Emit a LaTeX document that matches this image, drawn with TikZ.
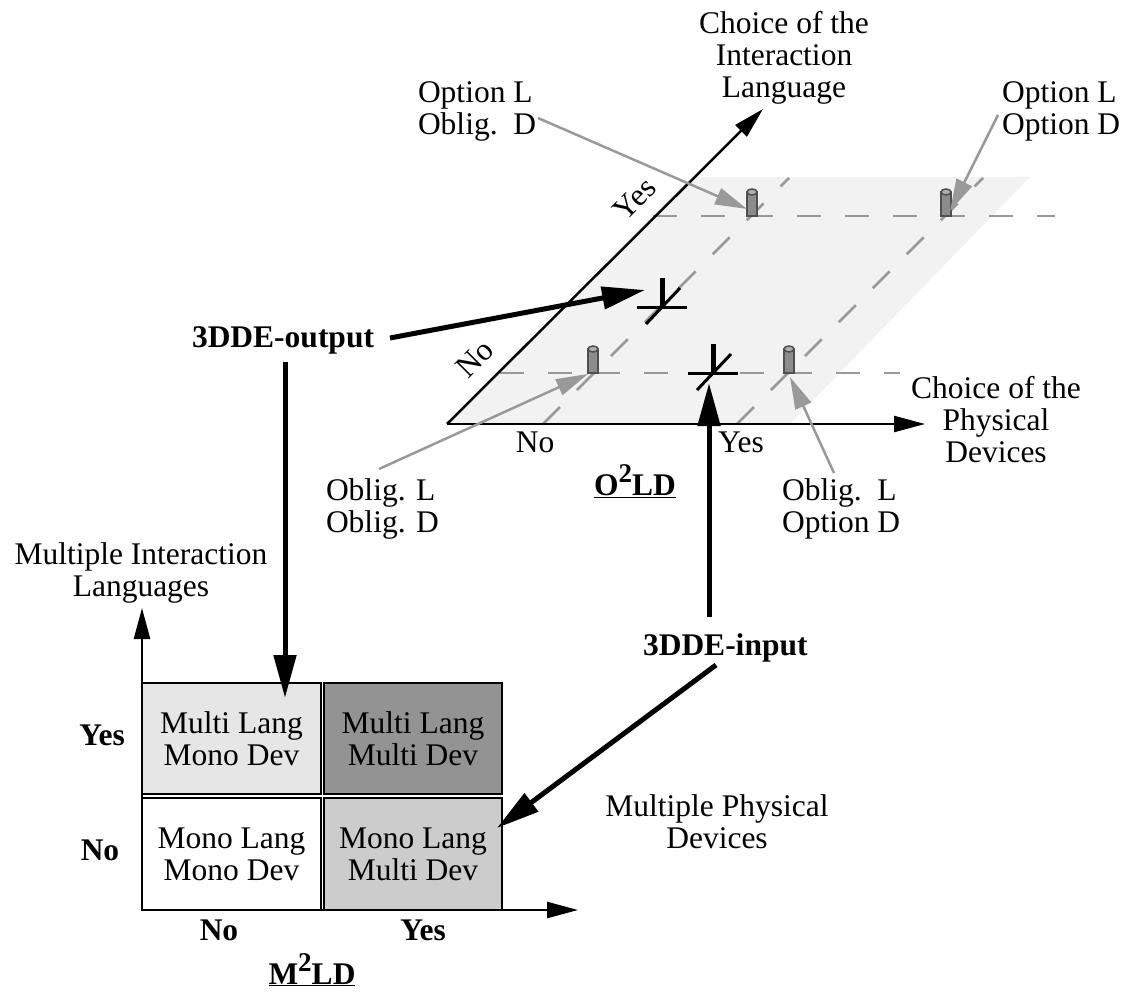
\documentclass[tikz,border=0pt]{standalone}
\usepackage{fontspec}
\setmainfont{Liberation Serif}
\usetikzlibrary{arrows.meta}
\definecolor{planegray}{RGB}{242,242,242}
\definecolor{guidegray}{RGB}{153,153,153}
\definecolor{pegfill}{RGB}{140,140,140}
\definecolor{pegedge}{RGB}{80,80,80}
\definecolor{pegtop}{RGB}{175,175,175}
\definecolor{cellA}{RGB}{230,230,230}
\definecolor{cellB}{RGB}{147,147,147}
\definecolor{cellC}{RGB}{204,204,204}
\newcommand\supbig[1]{\raisebox{0.4em}{\fontsize{27}{27}\selectfont #1}}
\begin{document}
\begin{tikzpicture}[x=1pt,y=-1pt,
  every node/.style={inner sep=0pt, outer sep=0pt, font=\fontsize{31.5}{32}\selectfont},
  lbl/.style={anchor=base, align=center},
  lblw/.style={anchor=base west, align=left},
  bold/.style={font=\fontsize{31.5}{32}\selectfont\bfseries},
  axis/.style={line width=2.5pt, -{Triangle[length=31pt,width=16pt]}},
  guide/.style={guidegray, line width=2.5pt, dash pattern=on 24pt off 24pt},
  pointer/.style={guidegray, line width=2.5pt, -{Triangle[length=32pt,width=17pt]}},
  bigarrow/.style={line width=5pt, -{Triangle[length=43pt,width=22pt]}},
  cell/.style={draw, line width=2.2pt, anchor=north west, align=center,
    minimum width=179pt, minimum height=111pt},
  peg/.pic={
    \filldraw[fill=pegfill, draw=pegedge, line width=1.5pt] (-5,-24) rectangle (5,0);
    \filldraw[fill=pegtop, draw=pegedge, line width=1.5pt] (0,-24) ellipse [x radius=5, y radius=3];
  },
  xmark/.pic={
    \draw[line width=3pt] (-25,0) -- (25,0);
    \draw[line width=5pt] (0,0) -- (0,-29);
    \draw[line width=3pt] (-16,17) -- (18,-19);
  }
]
\useasboundingbox (0,0) rectangle (1129,992);

% ---------- O2LD: the plane of choices ----------
\fill[planegray] (447,424) -- (694,177) -- (1030,177) -- (790,424) -- cycle;

\draw[guide] (653,216) -- (1055,216);
\draw[guide] (500,373) -- (900,373);
\draw[guide] (543,424) -- (789,178);
\draw[guide] (737,424) -- (983,178);

\coordinate (pegTL) at (752,216);
\coordinate (pegTR) at (946,216);
\coordinate (pegBL) at (593,373);
\coordinate (pegBR) at (789,373);
\pic at (pegTL) {peg};
\pic at (pegTR) {peg};
\pic at (pegBL) {peg};
\pic at (pegBR) {peg};

\coordinate (outMark) at (662,307);
\coordinate (inMark) at (713,373);
\pic at (outMark) {xmark};
\pic at (inMark) {xmark};

\coordinate (O) at (447,424);
\coordinate (langTip) at (763,109);
\coordinate (devTip) at (925,424);
\draw[axis] (O) -- (langTip);
\draw[axis] (O) -- (devTip);

% multi-line labels are placed by the baseline of their last line
\node[lbl] (langAxis) at (784,98) {Choice of the\\Interaction\\Language};
\node[lbl] (devAxis) at (996,462) {Choice of the\\Physical\\Devices};
\node[lbl] (devNo) at (535,452) {No};
\node[lbl] (devYes) at (741,452) {Yes};
\node[rotate=45] (langYes) at (635,199) {Yes};
\node[rotate=45] (langNo) at (475,359) {No};
\node[lbl, bold] (o2ld) at (635,495) {\underline{O\supbig{2}LD}};

\node[lblw] (optObl) at (418,135) {Option L\\Oblig.\ \ D};
\node[lblw] (optOpt) at (1002,135) {Option L\\Option D};
\node[lblw] (oblObl) at (326,532) {Oblig. L\\Oblig. D};
\node[lblw] (oblOpt) at (782,532) {Oblig.\ \ L\\Option D};

\coordinate (p1s) at (538,118);  \coordinate (p1e) at (747,209);
\coordinate (p2s) at (998,115);  \coordinate (p2e) at (950,211);
\coordinate (p3s) at (379,469);  \coordinate (p3e) at (588,374);
\coordinate (p4s) at (834,473);  \coordinate (p4e) at (790,377);
\draw[pointer] (p1s) -- (p1e);
\draw[pointer] (p2s) -- (p2e);
\draw[pointer] (p3s) -- (p3e);
\draw[pointer] (p4s) -- (p4e);

% ---------- M2LD: the grid of combinations ----------
\node[cell, fill=cellA] (mlmd) at (142,683) {Multi Lang\\Mono Dev};
\node[cell, fill=cellB, minimum width=178pt] (mlMd) at (324,683) {Multi Lang\\Multi Dev};
\node[cell, fill=white, minimum height=112pt] (lmd) at (142,798) {Mono Lang\\Mono Dev};
\node[cell, fill=cellC, minimum width=178pt, minimum height=112pt] (lMd) at (324,798) {Mono Lang\\Multi Dev};

\coordinate (G) at (142,910);
\coordinate (gyTip) at (142,608);
\coordinate (gxTip) at (578,910);
\draw[axis] (G) -- (gyTip);
\draw[axis] (G) -- (gxTip);

\node[lbl] (gyLbl) at (141,596) {Multiple Interaction\\Languages};
\node[lbl] (gxLbl) at (717,848) {Multiple Physical\\Devices};
\node[lbl, bold] (rowYes) at (102,745) {Yes};
\node[lbl, bold] (rowNo) at (100,860) {No};
\node[lbl, bold] (colNo) at (219,940) {No};
\node[lbl, bold] (colYes) at (423,940) {Yes};
\node[lbl, bold] (m2ld) at (312,984) {\underline{M\supbig{2}LD}};

% ---------- the two 3DDE models ----------
\node[lblw, bold] (outLbl) at (192,347) {3DDE-output};
\node[lblw, bold] (inLbl) at (643,655) {3DDE-input};

\coordinate (outA) at (390,338);
\coordinate (outAe) at (645,290);
\coordinate (outB) at (285,362);
\coordinate (outBe) at (285,698);
\coordinate (inA) at (709,617);
\coordinate (inAe) at (709,383);
\coordinate (inB) at (716,665);
\coordinate (inBe) at (497,828);
\draw[bigarrow] (outA) -- (outAe);
\draw[bigarrow] (outB) -- (outBe);
\draw[bigarrow] (inA) -- (inAe);
\draw[bigarrow] (inB) -- (inBe);
\end{tikzpicture}
\end{document}
